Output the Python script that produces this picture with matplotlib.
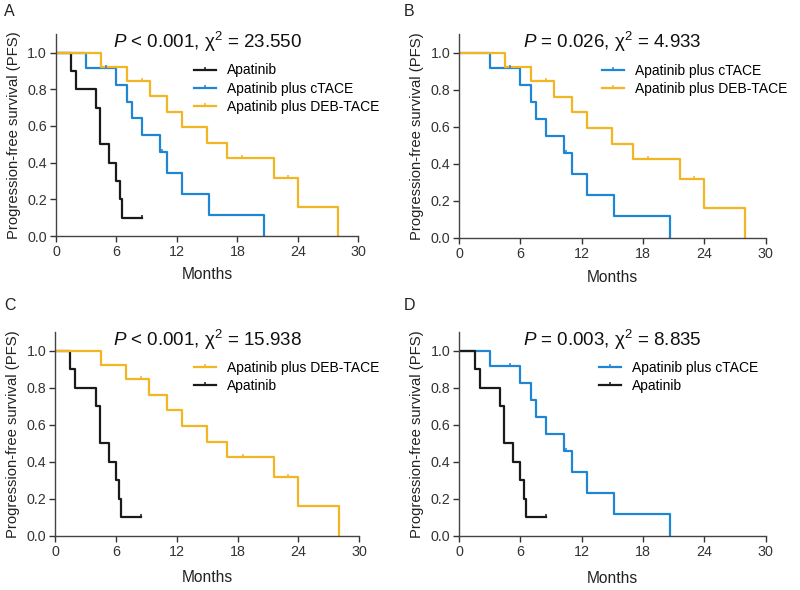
import matplotlib
matplotlib.use("Agg")
import matplotlib.pyplot as plt
from matplotlib.path import Path

plt.rcParams['font.family'] = ['Liberation Sans', 'DejaVu Sans']
plt.rcParams['mathtext.fontset'] = 'custom'
plt.rcParams['mathtext.rm'] = 'Liberation Sans'
plt.rcParams['mathtext.it'] = 'Liberation Sans:italic'

# step curves (time where the level starts, survival level)
apa_t = [0, 1.5, 2.0, 4.0, 4.4, 5.3, 6.0, 6.3, 6.5, 8.5]
apa_s = [1.0, 0.9, 0.8, 0.7, 0.5, 0.4, 0.3, 0.2, 0.1, 0.1]
apa_cens_t = [8.5]
apa_cens_s = [0.1]

ctace_t = [0, 3.0, 6.0, 7.0, 7.5, 8.5, 10.3, 11.0, 12.5, 15.2, 20.6]
ctace_s = [1.0, 0.917, 0.825, 0.733, 0.642, 0.55, 0.458, 0.344, 0.229, 0.115, 0.0]
ctace_cens_t = [5.0, 10.5]
ctace_cens_s = [0.917, 0.458]

deb_t = [0, 4.5, 7.0, 9.3, 11.0, 12.5, 15.0, 17.0, 21.6, 24.0, 28.0]
deb_s = [1.0, 0.923, 0.846, 0.762, 0.677, 0.592, 0.508, 0.423, 0.317, 0.159, 0.0]
deb_cens_t = [8.5, 18.5, 23.0]
deb_cens_s = [0.846, 0.423, 0.317]

x_ticks = [0, 6, 12, 18, 24, 30]
y_ticks = [0.0, 0.2, 0.4, 0.6, 0.8, 1.0]

BLACK = '#1a1a1a'
BLUE = '#1f86d4'
YELLOW = '#f2b622'

series = {
    'Apatinib': (apa_t, apa_s, apa_cens_t, apa_cens_s, BLACK),
    'Apatinib plus cTACE': (ctace_t, ctace_s, ctace_cens_t, ctace_cens_s, BLUE),
    'Apatinib plus DEB-TACE': (deb_t, deb_s, deb_cens_t, deb_cens_s, YELLOW),
}

# letter, title, legend entries, axes rect, legend anchor, xlabel y, letter pos
panels = [
    ('A', r'$\it{P}$ < 0.001, χ$^2$ = 23.550',
     ['Apatinib', 'Apatinib plus cTACE', 'Apatinib plus DEB-TACE'],
     [0.070, 0.600, 0.378, 0.342], (0.455, 0.855), -0.155, (0.005, 0.993)),
    ('B', r'$\it{P}$ = 0.026, χ$^2$ = 4.933',
     ['Apatinib plus cTACE', 'Apatinib plus DEB-TACE'],
     [0.574, 0.597, 0.383, 0.345], (0.465, 0.855), -0.16, (0.505, 0.993)),
    ('C', r'$\it{P}$ < 0.001, χ$^2$ = 15.938',
     ['Apatinib plus DEB-TACE', 'Apatinib'],
     [0.069, 0.092, 0.380, 0.345], (0.455, 0.86), -0.17, (0.005, 0.495)),
    ('D', r'$\it{P}$ = 0.003, χ$^2$ = 8.835',
     ['Apatinib plus cTACE', 'Apatinib'],
     [0.574, 0.092, 0.383, 0.345], (0.455, 0.86), -0.175, (0.505, 0.495)),
]

# upward tick used for censored observations
cens_mark = Path([(0, 0), (0, 1)])

fig = plt.figure(figsize=(8, 5.9), dpi=100)

for letter, title, names, rect, leg_xy, xlab_y, let_xy in panels:
    ax = fig.add_axes(rect)
    # yellow should end up on top, like in the original
    draw_order = sorted(names, key=lambda n: n == 'Apatinib plus DEB-TACE')
    for name in draw_order:
        t, s, ct, cs, col = series[name]
        ax.step(t, s, where='post', color=col, lw=1.6, zorder=2)
        ax.plot(ct, cs, ls='none', marker=cens_mark, ms=4, mew=1.1,
                color=col, zorder=3)
    leg_handles = []
    for name in names:
        col = series[name][4]
        h = plt.Line2D([0, 0.5, 1], [0, 0, 0], color=col, lw=1.6,
                       marker=cens_mark, ms=4, mew=1.1, markevery=[1])
        leg_handles.append(h)
    ax.legend(leg_handles, names, loc='upper left', bbox_to_anchor=leg_xy,
              frameon=False, fontsize=10, handlelength=1.6, handletextpad=0.8,
              labelspacing=0.3, borderpad=0, borderaxespad=0)

    ax.set_xlim(0, 30)
    ax.set_ylim(0, 1.1)
    ax.set_xticks(x_ticks)
    ax.set_yticks(y_ticks)
    ax.set_yticklabels(['%.1f' % v for v in y_ticks])
    ax.tick_params(labelsize=10.3, colors='#333333', length=4, width=1.0, pad=2.5)
    ax.spines['top'].set_visible(False)
    ax.spines['right'].set_visible(False)
    for sp in ('left', 'bottom'):
        ax.spines[sp].set_color('#444444')
        ax.spines[sp].set_linewidth(1.0)
    ax.set_xlabel('Months', fontsize=11.2, color='#222222')
    ax.set_ylabel('Progression-free survival (PFS)', fontsize=10.7,
                  color='#222222')
    ax.xaxis.set_label_coords(0.5, xlab_y)
    ax.yaxis.set_label_coords(-0.115, 0.5)
    ax.text(0.5, 0.96, title, transform=ax.transAxes, ha='center', va='center',
            fontsize=13.5, color='#111111')

    # panel letter in the top-left corner
    fig.text(let_xy[0], let_xy[1], letter, fontsize=11.5, color='#222222',
             ha='left', va='top')

fig.savefig('out.png', dpi=100)
